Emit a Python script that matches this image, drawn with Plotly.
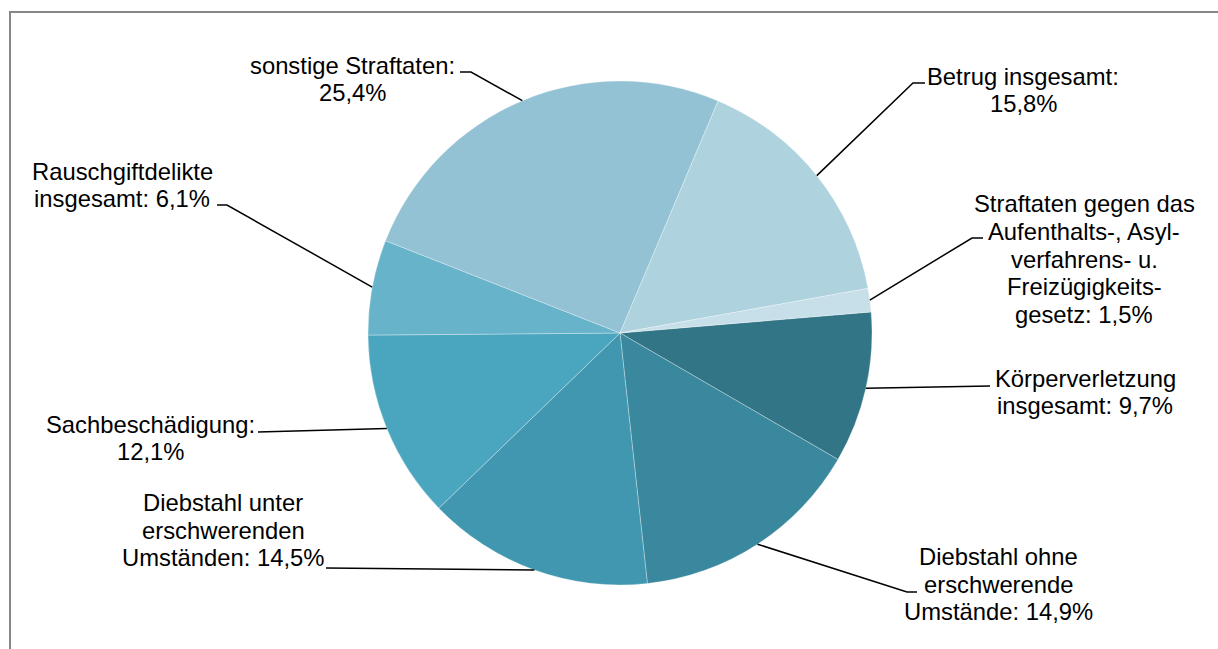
import math
import plotly.graph_objects as go

# ---------------------------------------------------------------------------
# Data (clockwise, starting with Körperverletzung)
# ---------------------------------------------------------------------------
categories = [
    "Körperverletzung insgesamt",
    "Diebstahl ohne erschwerende Umstände",
    "Diebstahl unter erschwerenden Umständen",
    "Sachbeschädigung",
    "Rauschgiftdelikte insgesamt",
    "sonstige Straftaten",
    "Betrug insgesamt",
    "Straftaten gegen das Aufenthalts-, Asylverfahrens- u. Freizügigkeitsgesetz",
]
shares = [9.7, 14.9, 14.5, 12.1, 6.1, 25.4, 15.8, 1.5]
label_lines = [
    ["Körperverletzung", "insgesamt: {v}"],
    ["Diebstahl ohne", "erschwerende", "Umstände: {v}"],
    ["Diebstahl unter", "erschwerenden", "Umständen: {v}"],
    ["Sachbeschädigung:", "{v}"],
    ["Rauschgiftdelikte", "insgesamt: {v}"],
    ["sonstige Straftaten:", "{v}"],
    ["Betrug insgesamt:", "{v}"],
    ["Straftaten gegen das", "Aufenthalts-, Asyl-", "verfahrens- u.",
     "Freizügigkeits-", "gesetz: {v}"],
]
colors = ["#327587", "#3a889d", "#4297b0", "#4aa6bf",
          "#67b3ca", "#93c2d4", "#aed2de", "#c6dfe8"]

# ---------------------------------------------------------------------------
# Layout constants (pixel space, 1218 x 649)
# ---------------------------------------------------------------------------
W, H = 1218, 649
CX, CY, R = 620, 333, 252
ROTATION = 85.2
LINE_H = 27.8
FONT = "Liberation Sans, Arial, sans-serif"

# label block centres and leader-line elbow / end points
label_pos = [(1085, 392), (998, 584), (223, 530), (150, 438),
             (122, 185), (352, 79), (1023, 90), (1084, 259)]
leader_pts = [
    [(990, 386)],
    [(907, 592), (917, 592)],
    [(326, 568)],
    [(258, 432)],
    [(227, 205), (217, 205)],
    [(471, 72), (460, 72)],
    [(913, 83), (925, 83)],
    [(972, 238), (983, 238)],
]

fig = go.Figure()

fig.add_trace(go.Pie(
    labels=categories,
    values=shares,
    sort=False,
    direction="clockwise",
    rotation=ROTATION,
    marker=dict(colors=colors, line=dict(color="rgba(255,255,255,0.5)", width=0.6)),
    textinfo="none",
    hoverinfo="label+percent",
    showlegend=False,
    domain=dict(x=[(CX - R) / W, (CX + R) / W],
                y=[1 - (CY + R) / H, 1 - (CY - R) / H]),
))

shapes = []
annotations = []
total = sum(shares)
cum = 0.0
for i, v in enumerate(shares):
    mid = ROTATION + (cum + v / 2) / total * 360
    cum += v
    a = math.radians(mid)
    ex, ey = CX + R * math.sin(a), CY - R * math.cos(a)
    pts = [(ex, ey)] + leader_pts[i]
    path = "M " + " L ".join(f"{x:.1f},{y:.1f}" for x, y in pts)
    shapes.append(dict(type="path", xref="x", yref="y", path=path,
                       line=dict(color="black", width=1.5)))

    txt = f"{v:.1f}%".replace(".", ",")
    lines = [s.format(v=txt) for s in label_lines[i]]
    lx, ly = label_pos[i]
    n = len(lines)
    for k, s in enumerate(lines):
        annotations.append(dict(
            x=lx, y=ly + (k - (n - 1) / 2) * LINE_H, xref="x", yref="y",
            text=s, showarrow=False, xanchor="center", yanchor="middle",
            font=dict(family=FONT, size=23.8, color="black"),
        ))

# outer chart border
shapes.append(dict(type="rect", xref="x", yref="y", x0=10, y0=12, x1=1240, y1=670,
                   line=dict(color="#878787", width=2), layer="below"))

fig.update_layout(
    width=W, height=H,
    margin=dict(l=0, r=0, t=0, b=0),
    paper_bgcolor="white",
    plot_bgcolor="rgba(0,0,0,0)",
    xaxis=dict(range=[0, W], visible=False, domain=[0, 1], fixedrange=True),
    yaxis=dict(range=[H, 0], visible=False, domain=[0, 1], fixedrange=True),
    shapes=shapes,
    annotations=annotations,
    font=dict(family=FONT, color="black"),
)

# page body margin off so the figure sits at the window origin
fig.write_html("out.html", config={"displayModeBar": False},
               post_script="document.body.style.margin='0';")
